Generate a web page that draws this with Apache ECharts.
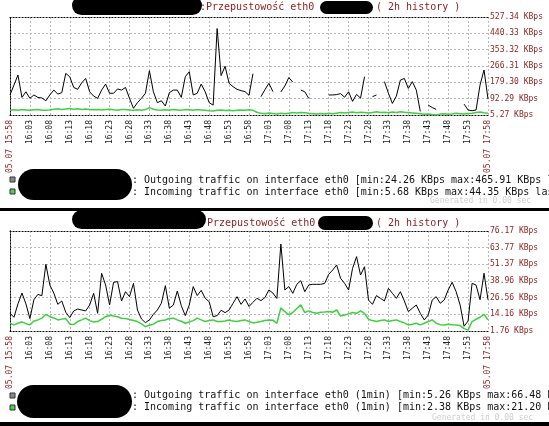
<!DOCTYPE html>
<html><head><meta charset="utf-8">
<script src="https://cdn.jsdelivr.net/npm/echarts@6/dist/echarts.min.js"></script>
<style>html,body{margin:0;padding:0;background:#fff}#c{width:549px;height:426px}</style>
</head><body><div id="c"></div>
<script>
// ---- data ----
const timeTicks = ['15:58','16:03','16:08','16:13','16:18','16:23','16:28','16:33','16:38','16:43','16:48','16:53','16:58','17:03','17:08','17:13','17:18','17:23','17:28','17:33','17:38','17:43','17:48','17:53','17:58'];
const dateLabel = '05.07';
const minutes = Array.from({length: 121}, (_, i) => i); // minutes after 15:58
const topYTicks = ['5.27','92.29','179.30','266.31','353.32','440.33','527.34'];
const botYTicks = ['1.76','14.16','26.56','38.96','51.37','63.77','76.17'];

// top chart, KBps (outgoing has gaps = null)
const topOut = [
 112,165,218,99,129,94,112,99,96,81,
 112,138,117,124,227,209,152,142,177,200,
 129,106,94,138,170,121,121,144,138,152,
 94,41,71,94,121,241,129,71,81,53,
 124,138,138,99,209,236,112,121,170,129,
 71,58,465.91,215,265,174,156,142,135,130,
 110,225,null,103,140,174,130,null,128,160,
 205,180,null,138,129,94,null,null,null,null,
 112,112,114,119,100,129,78,115,95,209,
 null,103,112,null,183,121,67,106,191,200,
 147,183,138,24.26,null,58,45,35,null,null,
 null,null,null,null,63,32,28,32,165,245,
 90];
const topIn = [
 30,33,31,34,32,30,33,35,31,30,
 32,36,38,35,37,40,36,38,35,37,
 34,33,35,32,34,36,33,31,34,35,
 32,30,33,31,34,44.35,36,32,30,33,
 31,34,32,30,35,33,31,34,32,30,
 28,27,30,32,29,31,28,30,32,31,
 33,30,20,14,12,16,13,11,14,12,
 15,18,16,19,17,14,12,10,13,11,
 14,12,15,18,16,19,21,17,20,18,
 16,19,22,18,20,17,21,19,23,20,
 18,16,14,12,9,11,8,5.68,10,12,
 9,11,14,12,10,13,15,18,21,17,
 14];
// bottom chart (1min), KBps
const botOut = [
 15,12,22,30,22,11,25,29,28,51.4,
 36,30,21.6,24.1,15.7,11.7,16.7,18.1,17.4,16.7,
 21.1,29.8,14.9,44.7,36.0,21.1,38.0,38.5,24.1,31.0,
 27.3,37.2,17.4,10.7,8.0,10.0,14.2,17.4,22.4,35.5,
 18.7,21.1,31.5,20.6,13.2,21.1,34.8,28.1,32.0,26.1,
 23.6,12.4,13.2,17.2,15.4,17.4,22.4,27.3,21.6,25.6,
 20.0,23.1,26.1,24.4,26.6,32.3,30.0,26.0,66.48,32.3,
 34.8,29.8,36.5,39.2,31.0,36.0,36.5,36.5,36.5,37.2,
 43.9,47.1,50.9,40.9,37.2,32.3,48.4,57.1,43.4,49.6,
 24.8,21.6,28.1,26.1,24.1,33.5,29.8,26.1,31.0,24.1,
 16.2,18.7,21.1,14.9,10.0,13.7,24.8,27.3,22.4,24.8,
 32.3,38.0,31.0,21.1,5.26,9.2,37.2,36.0,25.0,44.7,
 25.0];
const botIn = [
 7.5,6.3,7.5,8.6,7.2,6.3,9.2,10.0,11.3,14.2,
 12.4,11.5,10.0,10.6,11.0,7.0,6.5,8.8,10.0,11.3,
 9.5,8.5,8.8,10.5,12.4,13.5,13.0,12.4,11.3,11.0,
 10.3,9.6,8.8,7.0,5.1,6.0,6.8,8.8,9.6,10.0,
 11.0,11.3,10.0,9.0,7.5,8.5,9.5,11.3,10.0,8.8,
 9.5,10.0,8.8,8.8,9.2,10.0,9.2,8.8,9.6,10.0,
 8.8,7.8,8.2,8.8,9.5,10.0,9.8,7.5,19.0,16.2,
 14.0,15.5,18.5,21.2,15.5,16.7,15.5,14.9,15.7,15.9,
 16.2,15.7,17.4,12.9,13.7,14.5,15.5,14.9,16.7,14.9,
 10.5,9.5,8.8,9.5,10.0,8.8,9.6,10.0,8.8,7.8,
 6.3,6.8,7.5,6.3,7.5,8.8,10.0,7.5,6.5,6.3,
 6.8,6.5,6.3,5.8,3.5,2.38,8.8,10.5,12.0,14.2,
 10.0];

const legendTop = [
 ': Outgoing traffic on interface eth0 [min:24.26 KBps max:465.91 KBps last:',
 ': Incoming traffic on interface eth0 [min:5.68 KBps max:44.35 KBps last:'];
const legendBot = [
 ': Outgoing traffic on interface eth0 (1min) [min:5.26 KBps max:66.48 KBps',
 ': Incoming traffic on interface eth0 (1min) [min:2.38 KBps max:21.20 KBps'];

// ---- chart ----
const MONO = '"DejaVu Sans Mono", "Liberation Mono", monospace';
const RED = '#8e1c1c';
const chart = echarts.init(document.getElementById('c'), null, {renderer: 'canvas'});
const pair = arr => arr.map((v, i) => [minutes[i], v]);
const topMin = parseFloat(topYTicks[0]), topMax = parseFloat(topYTicks[6]);
const botMin = parseFloat(botYTicks[0]), botMax = parseFloat(botYTicks[6]);
const topStep = (topMax - topMin) / 6, botStep = (botMax - botMin) / 6;

const dotted = {show: true, lineStyle: {color: '#000', type: [1, 2], width: 1}};
const gridSplit = {show: true, lineStyle: {color: '#b8b8b8', type: [2, 2], width: 1}};

function xBottom(gi) {
  return {
    type: 'value', gridIndex: gi, position: 'bottom', min: 0, max: 120, interval: 5,
    axisLine: dotted, axisTick: {show: false}, splitLine: gridSplit,
    axisLabel: {
      rotate: 90, margin: 5, fontFamily: MONO, fontSize: 8, color: '#222',
      showMinLabel: true, showMaxLabel: true,
      formatter: v => {
        const i = Math.round(v / 5);
        const t = timeTicks[i] || '';
        if (i === 0 || i === timeTicks.length - 1) return '{r|' + dateLabel + ' ' + t + '}';
        return t;
      },
      rich: {r: {color: RED, fontFamily: MONO, fontSize: 8}}
    }
  };
}
function xTop(gi) {
  return {type: 'value', gridIndex: gi, position: 'top', min: 0, max: 120,
    axisLine: dotted, axisTick: {show: false}, axisLabel: {show: false}, splitLine: {show: false}};
}
function yRight(gi, mn, mx, step, ticks) {
  return {
    type: 'value', gridIndex: gi, position: 'right', min: mn, max: mx, interval: step,
    axisLine: dotted, axisTick: {show: false}, splitLine: gridSplit,
    axisLabel: {
      margin: 2, fontFamily: MONO, fontSize: 8, color: RED,
      showMinLabel: true, showMaxLabel: true,
      formatter: v => {
        const i = Math.round((v - mn) / step);
        return (ticks[i] || '') + ' KBps';
      }
    }
  };
}
function yLeft(gi, mn, mx) {
  return {type: 'value', gridIndex: gi, position: 'left', min: mn, max: mx,
    axisLine: dotted, axisTick: {show: false}, axisLabel: {show: false}, splitLine: {show: false}};
}
function lineSeries(xi, yi, data, color, width, z) {
  return {type: 'line', xAxisIndex: xi, yAxisIndex: yi, data: pair(data), showSymbol: false, symbol: 'none',
    connectNulls: false, lineStyle: {color: color, width: width}, z: z, animation: false};
}

const txt = (x, y, text, color, size, extra) => Object.assign({
  type: 'text', x: x, y: y, z: 20,
  style: {text: text, fill: color, font: size + 'px ' + MONO, textVerticalAlign: 'middle', verticalAlign: 'middle'}
}, extra || {});
const blob = (x, y, w, h) => ({type: 'rect', z: 30, shape: {x: x, y: y, width: w, height: h, r: h / 2}, style: {fill: '#000'}});
const square = (x, y, color) => ({type: 'rect', z: 20, shape: {x: x, y: y, width: 5, height: 5}, style: {fill: color, stroke: '#333', lineWidth: 1}});

chart.setOption({
  backgroundColor: '#fff',
  animation: false,
  grid: [
    {left: 10, right: 61, top: 17, height: 98, containLabel: false, outerBoundsMode: 'none'},
    {left: 10, right: 61, top: 231, height: 100, containLabel: false, outerBoundsMode: 'none'}
  ],
  xAxis: [xBottom(0), xTop(0), xBottom(1), xTop(1)],
  yAxis: [yRight(0, topMin, topMax, topStep, topYTicks), yLeft(0, topMin, topMax),
          yRight(1, botMin, botMax, botStep, botYTicks), yLeft(1, botMin, botMax)],
  series: [
    lineSeries(0, 0, topIn, '#3fd03f', 1.5, 3),
    lineSeries(0, 0, topOut, '#000', 1, 4),
    lineSeries(2, 2, botIn, '#3fd03f', 1.5, 3),
    lineSeries(2, 2, botOut, '#000', 1, 4)
  ],
  graphic: [
    // top title
    blob(72, -4, 130, 19),
    txt(200, 7, ':Przepustowość eth0', RED, 10),
    blob(320, 1, 53, 13),
    txt(376, 7, '( 2h history )', RED, 10),
    // top legend
    square(10, 177, '#8a8a8a'),
    square(10, 189, '#4fd04f'),
    blob(18, 169, 114, 31),
    txt(132, 180, legendTop[0], '#111', 10),
    txt(132, 192, legendTop[1], '#111', 10),
    txt(430, 201, 'Generated in 0.00 sec', '#cfcfcf', 8),
    // separator
    {type: 'rect', z: 25, shape: {x: 0, y: 208, width: 549, height: 3}, style: {fill: '#000'}},
    // bottom title
    blob(72, 210, 134, 19),
    txt(207, 223, 'Przepustowość eth0', RED, 10),
    blob(318, 216, 55, 14),
    txt(376, 223, '( 2h history )', RED, 10),
    // bottom legend
    square(10, 393, '#8a8a8a'),
    square(10, 405, '#4fd04f'),
    blob(17, 385, 115, 33),
    txt(132, 395, legendBot[0], '#111', 10),
    txt(132, 407, legendBot[1], '#111', 10),
    txt(432, 418, 'Generated in 0.00 sec', '#cfcfcf', 8),
    {type: 'rect', z: 25, shape: {x: 0, y: 422, width: 549, height: 4}, style: {fill: '#000'}}
  ]
});
</script>
</body></html>
